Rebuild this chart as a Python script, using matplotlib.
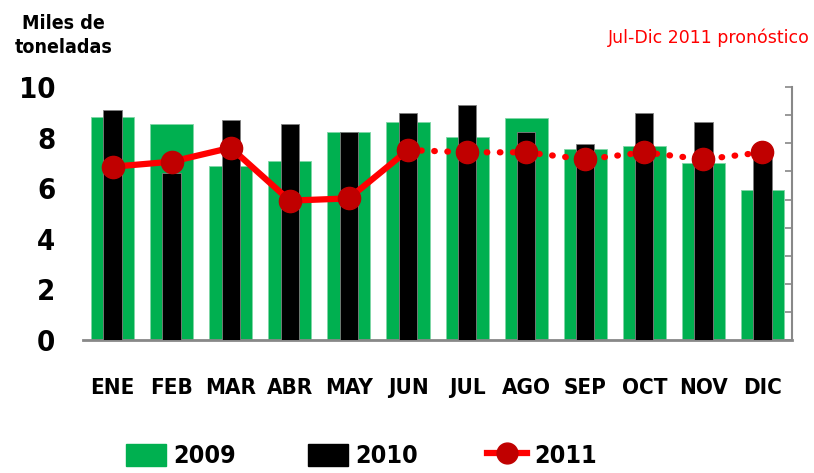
import numpy as np
from matplotlib import pyplot as plt
from matplotlib.lines import Line2D
from matplotlib.patches import Patch
from matplotlib import font_manager

meses = ['ENE', 'FEB', 'MAR', 'ABR', 'MAY', 'JUN', 'JUL', 'AGO', 'SEP', 'OCT', 'NOV', 'DIC']
v2009 = [8.80, 8.52, 6.89, 7.09, 8.22, 8.60, 8.04, 8.79, 7.56, 7.65, 6.98, 5.93]
v2010 = [9.09, 6.61, 8.71, 8.52, 8.22, 8.98, 9.28, 8.22, 7.75, 8.98, 8.60, 7.52]
v2011 = [6.85, 7.05, 7.60, 5.51, 5.60, 7.51, 7.42, 7.42, 7.14, 7.42, 7.14, 7.42]

green = '#00B050'
red = '#FF0000'
dark_red = '#C00000'


def bold(size):
    return font_manager.FontProperties(family='DejaVu Sans', weight='bold',
                                       stretch='condensed', size=size)


fig = plt.figure(figsize=(8.14, 4.73), dpi=100)
ax = fig.add_axes([0.102, 0.281, 0.871, 0.535])

x = np.arange(len(meses))
ax.bar(x, v2009, width=0.73, color=green, edgecolor='#7fd6a6', linewidth=0.6, zorder=2)
ax.bar(x, v2010, width=0.31, color='black', edgecolor='#808080', linewidth=0.6, zorder=3)

# real ene-jun, pronostico jun-dic
ax.plot(x[:6], v2011[:6], color=red, lw=4.5, zorder=4, solid_capstyle='round')
ax.plot(x[5:], v2011[5:], color=red, lw=4.5, linestyle=(0, (0.1, 2.0)),
        dash_capstyle='round', zorder=4)
ax.plot(x, v2011, linestyle='none', marker='o', markersize=16,
        markerfacecolor=dark_red, markeredgecolor=dark_red, zorder=5)

ax.set_xlim(-0.5, 11.5)
ax.set_ylim(0, 10)
ax.set_yticks([0, 2, 4, 6, 8, 10])
ax.set_yticklabels(['0', '2', '4', '6', '8', '10'], fontproperties=bold(21),
                   va='center_baseline')
ax.set_xticks(x)
ax.set_xticklabels(meses, fontproperties=bold(16))
ax.tick_params(axis='y', length=0, pad=20)
ax.tick_params(axis='x', length=0, pad=27)
for s in ['top', 'left', 'right']:
    ax.spines[s].set_visible(False)
ax.spines['bottom'].set_color('#888888')
ax.spines['bottom'].set_linewidth(2)

ax2 = ax.twinx()
ax2.set_ylim(0, 9)
ax2.set_yticks(range(10))
ax2.set_yticklabels([])
ax2.tick_params(axis='y', direction='in', length=5, color='#888888', width=1.2)
for s in ['top', 'left', 'bottom']:
    ax2.spines[s].set_visible(False)
ax2.spines['right'].set_color('#888888')
ax2.spines['right'].set_linewidth(1.5)

fig.text(0.078, 0.925, 'Miles de\ntoneladas', ha='center', va='center',
         fontproperties=bold(14), linespacing=1.35)
fig.text(0.995, 0.920, 'Jul-Dic 2011 pronóstico', ha='right', va='center',
         color=red, fontsize=12.5)

handles = [Patch(color=green), Patch(color='black'),
           Line2D([0], [0], color=red, lw=4.5, marker='o', markersize=15,
                  markerfacecolor=dark_red, markeredgecolor=dark_red)]
labels = ['2009', '2010', '2011']
anchors = [0.155, 0.378, 0.598]
for h, lab, a in zip(handles, labels, anchors):
    fig.legend([h], [lab], loc='center left', bbox_to_anchor=(a, 0.036),
               frameon=False, handlelength=1.6, handleheight=1.0,
               handletextpad=0.3, borderaxespad=0, borderpad=0,
               prop=bold(18))

fig.savefig('out.png', dpi=100)
